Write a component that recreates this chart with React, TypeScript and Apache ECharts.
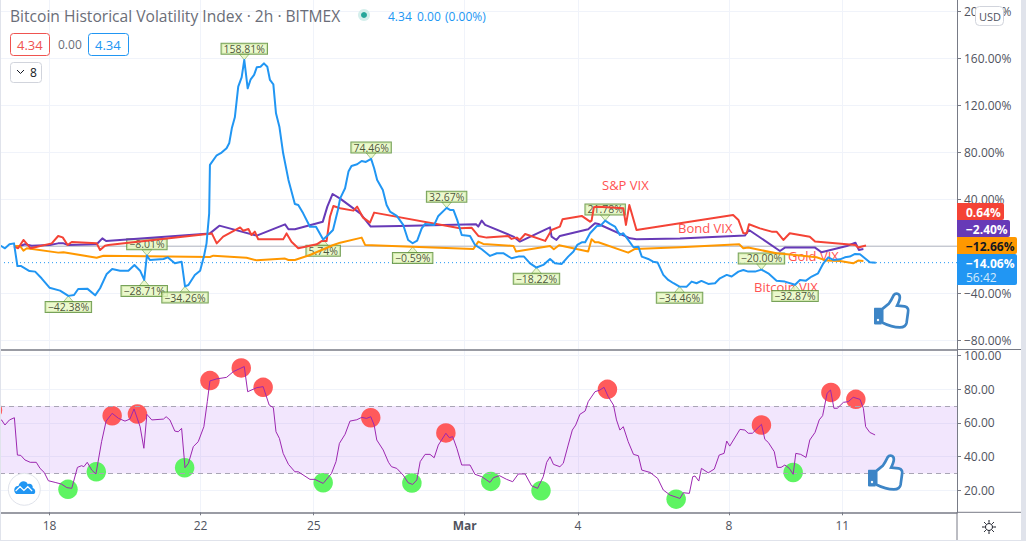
import React, { useEffect, useRef } from "react";
import * as echarts from "echarts";

const FONT = "'Open Sans', 'Noto Sans', sans-serif";

// x values are fractional days counted from 1 Feb 2021 (29 = 1 Mar)
const dayTicks = [18, 22, 25, 29, 32, 36, 39];
const dayLabels: Record<number, string> = { 18: "18", 22: "22", 25: "25", 29: "{b|Mar}", 32: "4", 36: "8", 39: "11" };
const priceGrid = [-80, -40, 0, 40, 80, 120, 160, 200];
const priceLabels = [-80, -40, 40, 80, 120, 160, 200];
const rsiTicks = [20, 40, 60, 80, 100];

const bitcoinVix: [number, number][] = [
  [16.69, 0.4], [16.72, 0.15], [16.82, -1.8], [16.94, 1.6], [17.06, 2.4], [17.15, -16.9], [17.24, -16.9], [17.35, -18.9], [17.47, -21.2], [17.62, -21.7], [17.79, -27.4], [18.0, -35.4], [18.28, -37.9], [18.5, -42.38], [18.65, -41.6], [18.76, -36.5], [19.0, -36.2], [19.21, -41.9], [19.34, -35.9], [19.51, -24], [19.66, -19.5], [19.87, -20.9], [20.09, -20.9], [20.25, -16], [20.4, -20.9], [20.51, -28.71], [20.58, -8.01], [20.66, -11.8], [21.02, -10.9], [21.13, -9.5], [21.32, -14.6], [21.5, -13.2], [21.59, -34.26], [21.68, -33.1], [21.85, -24.6], [21.99, -20.9], [22.09, -8.9], [22.16, 2.4], [22.23, 28], [22.25, 69.3],
  [22.43, 77.5], [22.56, 79.8], [22.69, 83.5], [22.76, 87.7], [22.83, 100.5], [22.91, 109.9], [23.0, 136], [23.09, 144], [23.16, 158.81], [23.25, 134.6], [23.33, 142.3], [23.42, 146], [23.49, 152.5], [23.59, 153], [23.68, 155.9], [23.77, 153], [23.84, 141.7], [23.93, 138], [24.0, 113.3], [24.09, 101.9], [24.19, 79.2], [24.33, 56.5], [24.5, 36], [24.59, 35.1], [24.72, 28], [24.9, 16.6], [25.06, 16.6], [25.25, 5.74], [25.38, 9.5], [25.51, 13.8], [25.64, 30.8],
  [25.7, 40.8], [25.83, 49.4], [25.92, 63.6], [26.0, 68.4], [26.15, 69.8], [26.27, 72.6], [26.38, 71.8], [26.52, 74.46], [26.6, 66.4], [26.68, 56.4], [26.83, 47.9], [26.93, 35.1], [27.02, 29.5], [27.2, 25.8], [27.37, 18.1], [27.5, 5.3], [27.62, 2.5], [27.74, 4.8], [27.86, 15.2], [27.95, 19], [28.19, 18.1], [28.3, 25.8], [28.52, 32.67], [28.61, 30.9], [28.7, 30.9], [28.8, 22.4], [28.92, 9.6], [29.14, 8.7], [29.27, 1.1], [29.45, -2.6], [29.67, -8.3], [29.85, -6], [30.02, -6], [30.24, -10.3], [30.42, -8.9], [30.57, -8.9], [30.73, -14.6], [30.9, -18.22], [31.08, -16], [31.26, -10.9], [31.39, -14.6], [31.57, -15.1], [31.74, -8.9], [31.88, -4.6], [31.98, 1.1], [32.1, 3.3], [32.19, 3.3], [32.32, 11], [32.5, 17.2], [32.6, 17.5], [32.72, 21.78], [32.85, 19], [32.98, 16.7], [33.11, 9.6], [33.2, 11], [33.33, 5.3], [33.47, -0.9], [33.6, -0.4], [33.69, -8.9], [33.86, -10.9], [33.99, -13.2], [34.11, -14], [34.26, -24.5], [34.39, -28.8], [34.53, -31.6], [34.69, -34.46],
  [34.88, -34.5], [35.01, -30.2], [35.14, -31.6], [35.27, -29.6], [35.45, -32.2], [35.63, -31.6], [35.76, -27.4], [35.94, -24.5], [36.07, -25.9], [36.25, -21.7], [36.38, -20.3], [36.51, -21.7], [36.69, -21.7], [36.86, -20], [37.04, -23.1], [37.26, -29.4], [37.48, -30.2], [37.75, -32.87], [37.88, -28.8], [38.04, -29.4], [38.19, -25.9], [38.36, -23.1], [38.5, -14.6], [38.63, -9.5], [38.76, -11.7], [38.94, -11.2], [39.07, -9.5], [39.2, -8.9], [39.34, -6.6], [39.47, -6.9], [39.6, -10.3], [39.73, -13.7], [39.89, -14.06],
];

const spVix: [number, number][] = [
  [17.06, -0.4], [17.17, -1.8], [17.31, 5.3], [17.4, 1.9], [17.5, -1.8], [18.06, 2.4], [18.23, 8.7], [18.35, 7.5], [18.48, 1], [18.59, 3.6], [19.25, 2.4], [19.34, -3.3], [19.47, 0.4], [19.56, 1], [22.3, 10.9], [22.43, 2.4], [22.6, 8.1], [23.05, 16], [23.13, 13.2], [23.27, 14.6], [23.35, 9.5], [23.44, 12.4], [23.53, 5.8], [24.19, 5.8], [24.28, 10.9], [24.41, 3.8], [24.59, -1.8], [25.08, 1.6], [25.21, 4.4], [25.34, 4.4], [25.43, 25.1], [25.52, 34.2], [25.7, 32.3],
  [26.05, 30.3], [26.15, 33.7], [26.3, 24.6], [26.49, 20.1], [26.6, 28.6], [28.87, 15.3], [29.18, 15.8], [29.36, 8.7], [29.58, 7.3], [30.15, 8.7], [30.24, 6.2], [30.38, 7.3], [30.46, 5.3], [30.6, 10.4], [31.13, 4.5], [31.3, 13.8], [31.52, 16.7], [31.59, 22.9], [32.1, 25.8], [32.32, 20.9], [32.36, 21.8], [32.42, 33.2], [32.54, 33.7], [33.2, 32.3], [33.27, 18.1], [33.36, 35.1], [33.55, 13.8], [34.7, 19.5],
  [36.11, 26.6], [36.25, 22.4], [36.38, 11], [36.47, 11], [36.53, 18.7], [36.82, 15.2], [37.13, 12.4], [37.26, 12.4], [37.44, 5.3], [37.61, 11], [38.14, 8.1], [38.28, 3.9], [39.35, 1], [39.42, -1.2], [39.63, 0.64],
];

const bondVix: [number, number][] = [
  [17.06, 0.15], [17.22, 0.15], [17.35, 1.6], [17.53, 0.4], [18.01, 1], [18.23, 2.4], [18.37, 2.4], [18.5, 1], [19.25, 1.6], [19.4, 6.7], [19.5, 4.4], [22.25, 10.9], [22.5, 17.5], [23.49, 9], [24.24, 18.6], [24.33, 14.4], [24.5, 14.4], [25.24, 20.9], [25.36, 33.7], [25.5, 44.5], [25.7, 40.5],
  [26.23, 28], [26.51, 16.7], [27.28, 17.2], [29.3, 18.7], [29.36, 16.7], [29.45, 21.8], [29.54, 18.1], [30.29, 8.2], [30.46, 3.9], [31.26, 16.1], [31.3, 8.2], [31.43, 5.3], [31.52, 8.7], [32.27, 14.4], [32.45, 19.5], [32.54, 18.9], [33.38, 6.7], [33.55, 5.9], [34.7, 6.5],
  [36.42, 9], [36.53, 13.8], [37.35, -4.1], [37.48, -1.2], [38.28, -1.2], [38.45, -5.2], [39.12, 0.2], [39.35, 3], [39.44, -3.2], [39.56, -2.4],
];

const goldVix: [number, number][] = [
  [17.06, 0.15], [17.22, 0.15], [17.31, -3.8], [17.4, -1.8], [18.23, -5.5], [18.37, -5.2], [19.25, -9.8], [19.43, -8.1], [22.25, -9.2], [22.34, -8.1], [23.22, -9.8], [23.49, -12.1], [24.24, -10.6], [24.33, -11.8], [24.5, -11.8], [24.9, -7.5], [25.52, 1], [25.7, 3],
  [26.27, 7.3], [26.36, 1.1], [29.23, -2.4], [29.36, 3.9], [29.49, 1.9], [30.29, 0.2], [30.36, -4.6], [31.26, 0.2], [31.36, -2.6], [31.5, 0.8], [32.27, -4.6], [32.36, 5.9], [32.45, 3.3], [32.54, 3.3], [33.33, -5.5], [33.51, -2.4], [34.7, -1],
  [36.27, 1.6], [36.38, -1.8], [36.51, -1.2], [37.26, -6.1], [37.75, -7.5], [38.32, -9.5], [38.58, -12.3], [38.94, -12.66], [39.29, -14.6], [39.42, -12.3], [39.56, -12.66],
];

const rsi: [number, number][] = [
  [16.69, 61], [16.73, 61.7], [16.82, 58.7], [16.94, 61.7], [17.07, 63], [17.15, 40.9], [17.24, 40.7], [17.35, 38], [17.49, 36.6], [17.65, 36.6], [17.75, 33], [17.86, 30.6], [17.97, 25.7], [18.15, 24.7], [18.32, 23.7], [18.46, 21.6], [18.59, 21.2], [18.74, 33.6], [18.85, 34.6], [18.91, 34], [19.0, 36.6], [19.12, 32], [19.23, 29.7], [19.38, 48.8], [19.5, 61], [19.66, 65.6], [19.83, 62.6], [20.0, 61], [20.13, 62.2], [20.24, 68.2], [20.4, 57.7], [20.5, 44.9], [20.58, 65], [20.71, 61.7], [21.02, 62.2], [21.09, 63.6], [21.19, 61.7], [21.32, 55.1], [21.41, 54.7], [21.5, 56.7], [21.59, 33.4], [21.68, 36], [21.81, 45.9], [21.94, 48.8], [22.09, 57.7], [22.18, 72.5], [22.25, 84.8], [22.43, 86], [22.69, 86.9], [22.87, 90.3], [23.16, 93.3], [23.25, 78.4], [23.49, 80.8], [23.66, 81.4], [23.82, 70.5], [23.93, 69], [24.0, 54.7], [24.09, 50.8], [24.19, 41.9], [24.33, 35.4], [24.5, 31], [24.59, 31], [24.9, 26.5], [25.03, 26.5], [25.25, 24.1], [25.47, 30], [25.59, 37], [25.68, 47.8],
  [25.83, 53.2], [25.96, 61], [26.14, 61.8], [26.27, 63.2], [26.4, 62.6], [26.51, 63.6], [26.6, 58.7], [26.67, 49.8], [26.84, 43.9], [26.98, 36.6], [27.06, 34], [27.2, 33], [27.37, 29], [27.5, 24.5], [27.62, 23.5], [27.73, 26.1], [27.82, 37], [27.95, 41.3], [28.08, 41.3], [28.19, 39.3], [28.3, 46.8], [28.5, 53.8], [28.59, 51.2], [28.68, 51.8], [28.79, 44.9], [28.92, 35], [29.14, 35], [29.27, 29.5], [29.45, 28.1], [29.67, 24.7], [29.76, 27.5], [29.92, 28.7], [30.11, 26.5], [30.27, 25.1], [30.42, 29.7], [30.6, 29.7], [30.77, 22.7], [30.93, 21.2], [31.08, 28.1], [31.17, 36.6], [31.26, 39.9], [31.35, 35.4], [31.52, 34], [31.61, 36], [31.74, 46.8], [31.85, 55.7], [31.94, 58.7], [32.05, 65], [32.19, 67], [32.27, 72.5], [32.45, 78.4], [32.58, 79.4], [32.69, 81], [32.8, 75.5], [32.94, 70.5], [33.02, 61.7], [33.11, 55.7], [33.2, 57.7], [33.33, 48.8], [33.47, 41.3], [33.6, 40.5], [33.69, 32], [33.91, 30.6], [34.11, 27.1], [34.26, 20.2], [34.44, 17.2], [34.7, 15.2],
  [34.79, 18.6], [34.95, 18.2], [35.04, 28.1], [35.1, 28.5], [35.2, 25.5], [35.27, 33], [35.45, 30.4], [35.61, 32.6], [35.74, 40.9], [35.87, 41.9], [35.94, 49.2], [36.02, 46.2], [36.29, 56.1], [36.42, 55.7], [36.51, 53.8], [36.62, 53.8], [36.86, 59.1], [36.95, 50.2], [37.04, 48.4], [37.2, 42.9], [37.28, 33.6], [37.38, 33.6], [37.48, 35], [37.6, 33], [37.7, 29.5], [37.77, 41.9], [37.9, 41.3], [38.04, 39.5], [38.14, 49.8], [38.28, 54.3], [38.39, 61.7], [38.48, 64.2], [38.6, 77.5], [38.69, 79.4], [38.78, 68.6], [38.87, 68.6], [39.03, 72.1], [39.16, 72.5], [39.29, 75.1], [39.47, 73.9], [39.56, 68.6], [39.62, 57.7], [39.73, 54.3], [39.87, 52.8],
];

const rsiHighs: [number, number][] = [
  [16.49, 67.6], [19.66, 64.2], [20.33, 65.2], [22.25, 85], [23.08, 92.5], [23.66, 81], [26.51, 63], [28.5, 54], [32.78, 79.8], [36.86, 58.7], [38.7, 78], [39.36, 73.9],
];
const rsiLows: [number, number][] = [
  [18.49, 20.6], [19.24, 31], [21.58, 33.4], [25.25, 24.5], [27.6, 24.3], [29.69, 25.3], [31.02, 19.8], [34.6, 14.8], [37.7, 30.6],
];

const peakNotes: [number, number][] = [
  [20.58, -8.01], [23.16, 158.81], [26.52, 74.46], [28.52, 32.67], [32.72, 21.78], [36.86, -20],
];
const troughNotes: [number, number][] = [
  [18.5, -42.38], [20.51, -28.71], [21.59, -34.26], [25.25, 5.74], [27.62, -0.59], [30.9, -18.22], [34.69, -34.46], [37.75, -32.87],
];

const lastClose = -14.06;
const pctText = (v: number) => (v < 0 ? "\u2212" : "") + Math.abs(v).toFixed(2) + "%";

const THUMB =
  "M24 46 L44 30 C50 22 54 14 58 6 C64 -2 76 2 76 12 C76 20 72 28 68 36 L90 38 C100 40 102 48 100 56 L96 84 C94 96 86 98 76 98 C60 98 44 94 24 84 Z";
const CUFF = "M3 42 L22 42 L22 90 L3 90 C0 90 0 88 0 86 L0 46 C0 44 0 42 3 42 Z";
const CLOUD =
  "M4 26 C-2 22 0 12 8 13 C10 4 22 3 25 10 C30 8 35 11 34 16 C40 17 40 26 35 26 Z";
const WAVE = "M3 21 L11 14 L18 20 L25 14 L33 21";
const GEAR =
  "M10 5 A5 5 0 1 1 9.99 5 Z M10 0 L10 4 M10 16 L10 20 M0 10 L4 10 M16 10 L20 10 M3 3 L5.5 5.5 M14.5 14.5 L17 17 M3 17 L5.5 14.5 M14.5 5.5 L17 3";
echarts.graphic.registerShape("thumb", echarts.graphic.extendPath(THUMB, {}));
echarts.graphic.registerShape("cuff", echarts.graphic.extendPath(CUFF, {}));
echarts.graphic.registerShape("cloud", echarts.graphic.extendPath(CLOUD, {}));
echarts.graphic.registerShape("wave", echarts.graphic.extendPath(WAVE, {}));
echarts.graphic.registerShape("gear", echarts.graphic.extendPath(GEAR, {}));

export default function App() {
  const ref = useRef<HTMLDivElement>(null);
  useEffect(() => {
    const chart = echarts.init(ref.current!, undefined, { renderer: "svg" });
    const txt = (text: string, x: number, y: number, fill: string, fontSize = 12, extra: any = {}, z = 100) => ({
      type: "text",
      z,
      x,
      y,
      style: { text, fill, fontSize, fontFamily: FONT, textVerticalAlign: "middle", ...extra },
    });
    const box = (x: number, y: number, width: number, height: number, stroke: string, r = 3) => ({
      type: "rect",
      z: 99,
      shape: { x: x + 0.5, y: y + 0.5, width, height, r },
      style: { fill: "#fff", stroke, lineWidth: 1 },
    });
    const tag = (y: number, h: number, right: number, fill: string) => ({
      type: "rect",
      z: 99,
      shape: { x: 957, y, width: right - 957, height: h, r: [0, 2, 2, 0] },
      style: { fill },
    });
    const thumb = (x: number, y: number) => [
      { type: "thumb", z: 100, x, y, scaleX: 0.34, scaleY: 0.35, style: { fill: "#fff", stroke: "#3d85c6", lineWidth: 8 } },
      { type: "cuff", z: 101, x, y, scaleX: 0.34, scaleY: 0.35, style: { fill: "#3d85c6" } },
      { type: "circle", z: 102, shape: { cx: x + 4, cy: y + 27, r: 1.2 }, style: { fill: "#fff" } },
    ];
    const lineSeries = (name: string, data: [number, number][], color: string, extra: any = {}) => ({
      name,
      type: "line",
      data,
      symbol: "none",
      xAxisIndex: 0,
      yAxisIndex: 0,
      lineStyle: { color, width: 2, join: "round" },
      ...extra,
    });
    const noteLabel = (position: string, offset: number[]) => ({
      show: true,
      position,
      offset,
      formatter: (p: any) => pctText(p.value[1]),
      fontFamily: FONT,
      fontSize: 10.5,
      lineHeight: 10,
      color: "#1f2a12",
      backgroundColor: "#e6f7c0",
      borderColor: "#558b2f",
      borderWidth: 1,
      padding: [0, 2],
    });
    chart.setOption({
      animation: false,
      backgroundColor: "#fff",
      grid: [
        { left: 0, right: 69, top: 0, height: 349.5 },
        { left: 0, right: 69, top: 349.5, height: 162.8 },
      ],
      xAxis: [0, 1].map((i) => ({
        type: "value",
        gridIndex: i,
        min: 16.689,
        max: 42.04,
        axisLine: { show: true, onZero: false, lineStyle: { color: "#787b86", width: 1.5 } },
        axisTick: { show: i === 1, length: 3, customValues: dayTicks, lineStyle: { color: "#787b86" } },
        splitLine: { show: true, lineStyle: { color: "#f0f3fa" } },
        axisLabel: {
          show: i === 1,
          customValues: dayTicks,
          margin: 7,
          formatter: (v: number) => dayLabels[v] ?? "",
          fontFamily: FONT,
          fontSize: 12,
          color: "#50535e",
          rich: { b: { fontFamily: FONT, fontSize: 12, fontWeight: "bold", color: "#50535e" } },
        },
      })),
      yAxis: [
        {
          type: "value",
          gridIndex: 0,
          position: "right",
          min: -88.1,
          max: 209.9,
          axisLine: { show: true, onZero: false, lineStyle: { color: "#787b86", width: 1 } },
          axisTick: { show: true, length: 4, customValues: priceGrid, lineStyle: { color: "#787b86" } },
          splitLine: { show: true, lineStyle: { color: "#f0f3fa" } },
          axisLabel: { customValues: priceLabels, margin: 7, formatter: (v: number) => pctText(v), fontFamily: FONT, fontSize: 12, color: "#50535e" },
        },
        {
          type: "value",
          gridIndex: 1,
          position: "right",
          min: 7,
          max: 103.4,
          axisLine: { show: true, onZero: false, lineStyle: { color: "#787b86", width: 1 } },
          axisTick: { show: true, length: 4, customValues: rsiTicks, lineStyle: { color: "#787b86" } },
          splitLine: { show: true, lineStyle: { color: "#f0f3fa" } },
          axisLabel: { customValues: rsiTicks, margin: 7, formatter: (v: number) => v.toFixed(2), fontFamily: FONT, fontSize: 12, color: "#50535e" },
        },
      ],
      series: [
        lineSeries("Baseline", [[17.06, 0], [42.04, 0]], "#b2b5be", { lineStyle: { color: "#b2b5be", width: 1 }, z: 1 }),
        lineSeries("Last", [[16.689, lastClose], [42.04, lastClose]], "#2196f3", { lineStyle: { color: "#2196f3", width: 1, type: [1, 3] }, z: 1 }),
        {
          name: "Peaks",
          type: "scatter",
          z: 2,
          data: peakNotes,
          symbol: "triangle",
          symbolSize: [10, 6],
          symbolRotate: 180,
          symbolOffset: [0, -3],
          itemStyle: { color: "#e6f7c0", borderColor: "#558b2f", borderWidth: 0.6 },
          label: noteLabel("top", [0, 5]),
        },
        {
          name: "Troughs",
          type: "scatter",
          z: 2,
          data: troughNotes,
          symbol: "triangle",
          symbolSize: [10, 6],
          symbolOffset: [0, 3],
          itemStyle: { color: "#e6f7c0", borderColor: "#558b2f", borderWidth: 0.6 },
          label: noteLabel("bottom", [0, -5]),
        },
        lineSeries("Bond VIX", bondVix, "#673ab7", { z: 3 }),
        lineSeries("Gold VIX", goldVix, "#ff9800", { z: 3 }),
        lineSeries("S&P VIX", spVix, "#f44336", { z: 4 }),
        lineSeries("Bitcoin VIX", bitcoinVix, "#2196f3", { z: 5 }),
        {
          name: "RSI",
          type: "line",
          xAxisIndex: 1,
          yAxisIndex: 1,
          data: rsi,
          symbol: "none",
          z: 5,
          lineStyle: { color: "#9c27b0", width: 1 },
          markArea: {
            silent: true,
            itemStyle: { color: "rgba(176,100,245,0.16)" },
            data: [[{ yAxis: 30 }, { yAxis: 70 }]],
          },
          markLine: {
            silent: true,
            symbol: "none",
            label: { show: false },
            lineStyle: { color: "#a9a5b5", type: [5, 4], width: 1 },
            data: [{ yAxis: 30 }, { yAxis: 70 }],
          },
        },
        {
          name: "RSI highs",
          type: "scatter",
          xAxisIndex: 1,
          yAxisIndex: 1,
          clip: false,
          z: 3,
          data: rsiHighs,
          symbolSize: 19.5,
          itemStyle: { color: "#ff5252", opacity: 0.95 },
        },
        {
          name: "RSI lows",
          type: "scatter",
          xAxisIndex: 1,
          yAxisIndex: 1,
          z: 3,
          data: rsiLows,
          symbolSize: 19.5,
          itemStyle: { color: "#55f35a", opacity: 0.95 },
        },
      ],
      graphic: [
        txt("Bitcoin Historical Volatility Index \u00b7 2h \u00b7 BITMEX", 10, 16, "#6a6d78", 15.6),
        { type: "circle", z: 100, shape: { cx: 364, cy: 15, r: 6 }, style: { fill: "#d5efec" } },
        { type: "circle", z: 101, shape: { cx: 364, cy: 15, r: 3 }, style: { fill: "#26a69a" } },
        txt("4.34", 388, 16, "#2196f3", 12),
        txt("0.00", 417, 16, "#2196f3", 12),
        txt("(0.00%)", 445, 16, "#2196f3", 12),
        box(10, 33, 39, 22, "#ef5350"),
        txt("4.34", 17, 45, "#ef5350", 13),
        txt("0.00", 58, 44, "#6a6d78", 12),
        box(88, 33, 40, 22, "#2196f3"),
        txt("4.34", 95, 45, "#2196f3", 13),
        box(10, 62, 31, 20, "#d1d4dc"),
        { type: "polyline", z: 100, shape: { points: [[17, 70], [20.5, 73.5], [24, 70]] }, style: { fill: "none", stroke: "#131722", lineWidth: 1 } },
        txt("8", 30, 72, "#131722", 12),
        box(975, 6, 28, 19, "#d1d4dc", 4),
        txt("USD", 979, 16, "#50535e", 11),
        txt("S&P VIX", 602, 185, "#ff5252", 13, {}, 1),
        txt("Bond VIX", 678, 228, "#ff5252", 13, {}, 1),
        txt("Gold VIX", 788, 256, "#ff5252", 13, {}, 1),
        txt("Bitcoin VIX", 754, 287, "#ff5252", 13, {}, 1),
        tag(203, 17, 1004, "#f44336"),
        txt("0.64%", 966, 212, "#fff", 12, { fontWeight: "bold" }),
        tag(220, 17, 1010, "#673ab7"),
        txt("\u22122.40%", 966, 229, "#fff", 12, { fontWeight: "bold" }),
        tag(237, 17, 1017, "#ff9800"),
        txt("\u221212.66%", 966, 246, "#131722", 12, { fontWeight: "bold" }),
        tag(254, 31, 1017, "#2196f3"),
        txt("\u221214.06%", 966, 263, "#fff", 12, { fontWeight: "bold" }),
        txt("56:42", 966, 277, "#d3eafc", 12),
        ...thumb(874, 293),
        ...thumb(868, 455),
        { type: "circle", z: 100, shape: { cx: 24.3, cy: 489.3, r: 16 }, style: { fill: "#fff", stroke: "#e0e3eb", lineWidth: 1 } },
        { type: "cloud", z: 101, x: 14, y: 478, scaleX: 0.55, scaleY: 0.62, style: { fill: "#2196f3" } },
        { type: "wave", z: 102, x: 14, y: 478, scaleX: 0.55, scaleY: 0.62, style: { fill: "none", stroke: "#fff", lineWidth: 2 } },
        { type: "gear", z: 100, x: 982, y: 520, scaleX: 0.7, scaleY: 0.7, style: { fill: "none", stroke: "#131722", lineWidth: 1.4 } },
        { type: "rect", z: 110, shape: { x: 0, y: 0, width: 1, height: 541 }, style: { fill: "#e0e3eb" } },
        { type: "rect", z: 110, shape: { x: 1021, y: 0, width: 5, height: 541 }, style: { fill: "#e0e3eb" } },
        { type: "rect", z: 110, shape: { x: 0, y: 540, width: 1026, height: 1 }, style: { fill: "#e0e3eb" } },
        { type: "line", z: 90, shape: { x1: 957, y1: 512, x2: 957, y2: 541 }, style: { stroke: "#787b86", lineWidth: 1 } },
        { type: "line", z: 90, shape: { x1: 957, y1: 512.3, x2: 1021, y2: 512.3 }, style: { stroke: "#787b86", lineWidth: 1 } },
        { type: "line", z: 90, shape: { x1: 957, y1: 349.5, x2: 1021, y2: 349.5 }, style: { stroke: "#787b86", lineWidth: 1 } },
      ],
    });
    return () => chart.dispose();
  }, []);
  return <div ref={ref} style={{ position: "fixed", left: 0, top: 0, width: 1026, height: 541 }} />;
}
